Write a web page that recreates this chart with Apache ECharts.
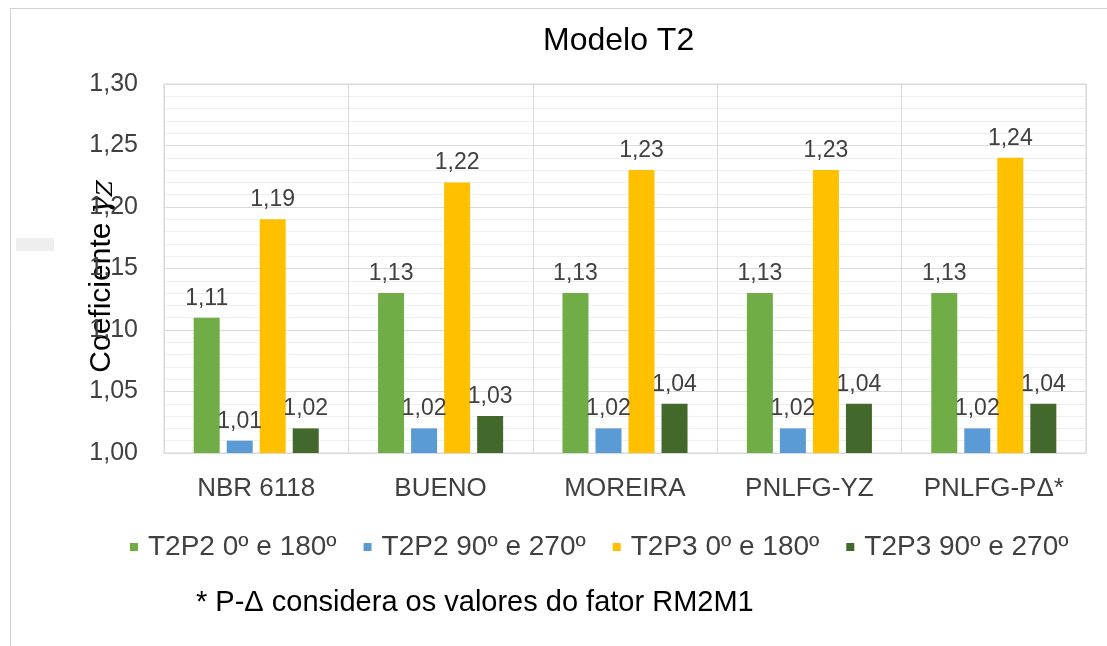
<!DOCTYPE html>
<html><head><meta charset="utf-8">
<script src="https://cdn.jsdelivr.net/npm/echarts@6/dist/echarts.min.js"></script>
<style>html,body{margin:0;padding:0;background:#fff}#c{width:1107px;height:646px}</style>
</head><body><div id="c"></div>
<script>
const categories = ['NBR 6118', 'BUENO', 'MOREIRA', 'PNLFG-YZ', 'PNLFG-PΔ*'];
const seriesNames = ['T2P2 0º e 180º', 'T2P2 90º e 270º', 'T2P3 0º e 180º', 'T2P3 90º e 270º'];
const t2p2_0 = [1.11, 1.13, 1.13, 1.13, 1.13];
const t2p2_90 = [1.01, 1.02, 1.02, 1.02, 1.02];
const t2p3_0 = [1.19, 1.22, 1.23, 1.23, 1.24];
const t2p3_90 = [1.02, 1.03, 1.04, 1.04, 1.04];
const colors = ['#70AD47', '#5B9BD5', '#FFC000', '#43682B'];
const FONT = 'Liberation Sans, Arial, sans-serif';
const fmt = v => v.toFixed(2).replace('.', ',');

const chart = echarts.init(document.getElementById('c'));
const data = [t2p2_0, t2p2_90, t2p3_0, t2p3_90];
chart.setOption({
  animation: false,
  textStyle: { fontFamily: FONT },
  title: { text: 'Modelo T2', left: 538, top: 20, textStyle: { fontSize: 32, fontWeight: 'normal', color: '#000', fontFamily: FONT } },
  grid: { left: 164, right: 21, top: 84, bottom: 193, show: true, borderColor: '#d9d9d9', borderWidth: 1 },
  legend: {
    data: seriesNames, top: 528, left: 125, itemWidth: 8, itemHeight: 8, itemGap: 27,
    icon: 'rect', textStyle: { fontSize: 28, color: '#404040', fontFamily: FONT, padding: [0, 0, 0, 5] }
  },
  xAxis: {
    type: 'category', data: categories,
    axisLine: { lineStyle: { color: '#d9d9d9' } }, axisTick: { show: false },
    splitLine: { show: true, lineStyle: { color: '#d9d9d9' } },
    axisLabel: { fontSize: 26, color: '#404040', margin: 23, fontFamily: FONT }
  },
  yAxis: {
    type: 'value', min: 1.0, max: 1.3, interval: 0.05,
    name: '{a|Coeficiente }{g|γ}{s|Z}', nameLocation: 'middle', nameRotate: 90, nameGap: 46,
    nameMoveOverlap: false,
    nameTextStyle: { padding: [0, 16, 0, 0], rich: {
      a: { fontSize: 30, color: '#000', fontFamily: FONT },
      g: { fontSize: 30, color: '#000', fontStyle: 'italic', fontFamily: 'DejaVu Serif, serif' },
      s: { fontSize: 23, color: '#000', fontStyle: 'italic', fontFamily: 'DejaVu Serif, serif', padding: [10, 0, 0, 0] }
    } },
    axisLine: { show: false }, axisTick: { show: false },
    axisLabel: { fontSize: 25, color: '#404040', margin: 26, formatter: fmt, fontFamily: FONT },
    splitLine: { lineStyle: { color: '#d9d9d9' } },
    minorTick: { show: false, splitNumber: 5 },
    minorSplitLine: { show: true, lineStyle: { color: '#eeeeee' } }
  },
  series: data.map((d, i) => ({
    name: seriesNames[i], type: 'bar', data: d, barWidth: 26, barGap: '27%',
    itemStyle: { color: colors[i] },
    label: { show: true, position: 'top', distance: 8, fontSize: 23, color: '#404040', formatter: p => fmt(p.value), fontFamily: FONT }
  })),
  graphic: [
    { type: 'rect', shape: { x: 16, y: 238, width: 38, height: 13 }, style: { fill: '#eeeeee' } },
    { type: 'line', shape: { x1: 10.5, y1: 9, x2: 10.5, y2: 646 }, style: { stroke: '#d0d0d0', lineWidth: 1 } },
    { type: 'line', shape: { x1: 10, y1: 8.5, x2: 1107, y2: 8.5 }, style: { stroke: '#d0d0d0', lineWidth: 1 } },
    { type: 'text', left: 196, top: 588, style: { text: '* P-Δ considera os valores do fator RM2M1', fill: '#000', font: '29px ' + FONT } }
  ]
});
</script></body></html>
